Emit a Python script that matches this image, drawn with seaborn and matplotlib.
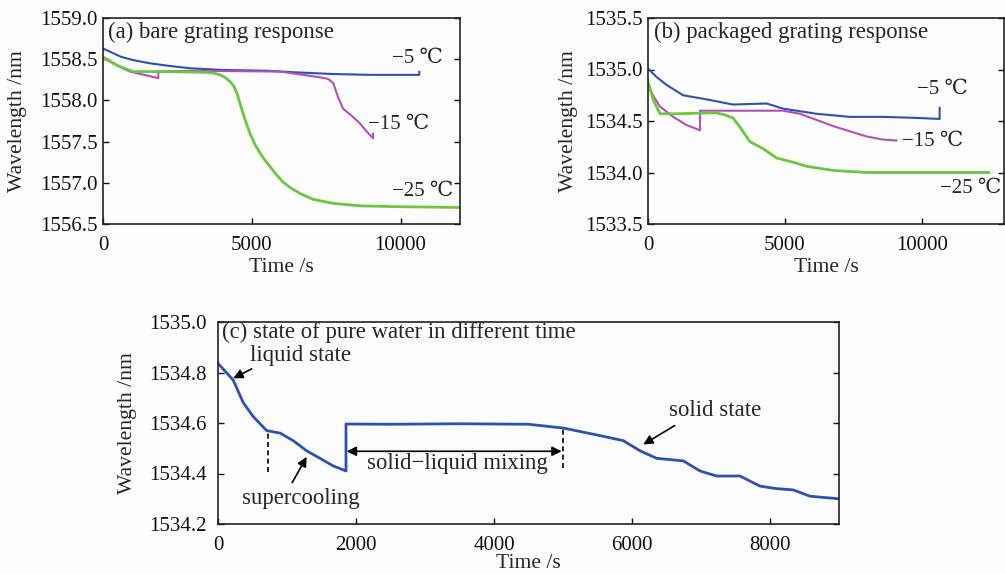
import matplotlib
matplotlib.use("Agg")
import matplotlib.pyplot as plt
import seaborn as sns
import pandas as pd

# ---- data ----
# (a) bare grating
a_t_5 = [0, 300, 600, 1000, 1580, 2200, 2924, 4000, 5510, 6500, 7740, 9000, 10630, 10630]
a_v_5 = [1558.63, 1558.58, 1558.53, 1558.49, 1558.45, 1558.42, 1558.39, 1558.37, 1558.36, 1558.34, 1558.32,
         1558.31, 1558.31, 1558.35]
a_t_15 = [0, 500, 900, 1860, 1860, 3000, 5950, 7300, 7570, 7740, 7900, 8070, 8400, 8640, 8870, 9080, 9080]
a_v_15 = [1558.53, 1558.42, 1558.35, 1558.27, 1558.35, 1558.36, 1558.35, 1558.28, 1558.26, 1558.21, 1558.04,
          1557.90, 1557.80, 1557.72, 1557.62, 1557.54, 1557.60]
a_t_25 = [0, 250, 500, 1010, 2000, 3480, 3750, 3930, 4100, 4270, 4400, 4500, 4600, 4710, 4820, 4940, 5100,
          5280, 5450, 5610, 5800, 6050, 6300, 6620, 7060, 7740, 8640, 9980, 12000]
a_v_25 = [1558.52, 1558.47, 1558.42, 1558.35, 1558.35, 1558.34, 1558.33, 1558.31, 1558.28, 1558.23, 1558.17,
          1558.09, 1557.97, 1557.84, 1557.72, 1557.60, 1557.47, 1557.36, 1557.27, 1557.20, 1557.11, 1557.01,
          1556.94, 1556.87, 1556.80, 1556.75, 1556.72, 1556.71, 1556.70]

# (b) packaged grating
b_t_5 = [0, 300, 680, 1280, 2140, 3100, 4330, 4930, 6160, 7370, 8580, 9800, 10650, 10650]
b_v_5 = [1535.01, 1534.93, 1534.85, 1534.75, 1534.71, 1534.66, 1534.67, 1534.62, 1534.57, 1534.54, 1534.54,
         1534.53, 1534.52, 1534.63]
b_t_15 = [0, 200, 440, 920, 1410, 1900, 1900, 3000, 4930, 5550, 6160, 6770, 7370, 7980, 8580, 9080]
b_v_15 = [1534.85, 1534.74, 1534.64, 1534.54, 1534.46, 1534.41, 1534.60, 1534.60, 1534.60, 1534.57, 1534.51,
          1534.45, 1534.40, 1534.35, 1534.32, 1534.31]
b_t_25 = [0, 200, 440, 1000, 2470, 2800, 3100, 3360, 3720, 4210, 4700, 5300, 5790, 6770, 8000, 10000, 12450]
b_v_25 = [1534.88, 1534.70, 1534.57, 1534.57, 1534.58, 1534.56, 1534.53, 1534.44, 1534.30, 1534.23, 1534.14,
          1534.10, 1534.06, 1534.02, 1534.00, 1534.00, 1534.00]

# (c) pure water
c_t = [0, 220, 367, 512, 705, 900, 1090, 1285, 1478, 1670, 1855, 1855, 2500, 3500, 4500, 5005, 5536, 5874,
       6116, 6358, 6744, 6985, 7227, 7565, 7855, 8097, 8338, 8580, 8990]
c_v = [1534.836, 1534.77, 1534.68, 1534.625, 1534.57, 1534.56, 1534.53, 1534.49, 1534.46, 1534.43, 1534.41,
       1534.596, 1534.595, 1534.597, 1534.595, 1534.58, 1534.55, 1534.53, 1534.49, 1534.46, 1534.45, 1534.41,
       1534.39, 1534.39, 1534.35, 1534.34, 1534.335, 1534.31, 1534.30]

temps = ["−5 ℃", "−15 ℃", "−25 ℃"]
colors = {"−5 ℃": "#2c52b0", "−15 ℃": "#b050b8", "−25 ℃": "#6cc63e"}


def frame(ts, vs):
    parts = []
    for lab, t, v in zip(temps, ts, vs):
        parts.append(pd.DataFrame({"time": t, "wl": v, "temp": lab}))
    return pd.concat(parts, ignore_index=True)


df_a = frame([a_t_5, a_t_15, a_t_25], [a_v_5, a_v_15, a_v_25])
df_b = frame([b_t_5, b_t_15, b_t_25], [b_v_5, b_v_15, b_v_25])
df_c = pd.DataFrame({"time": c_t, "wl": c_v})

sns.set_theme(style="ticks")
plt.rcParams["font.family"] = ["Liberation Serif", "DejaVu Serif"]
FS_TICK = 15
FS_TXT = 16.4
FS_LAB = 15.6

W, H = 1005, 574
fig = plt.figure(figsize=(W / 100, H / 100), dpi=100, facecolor="#fcfcfc")


def px_axes(l, t, r, b):
    return fig.add_axes([l / W, 1 - b / H, (r - l) / W, (b - t) / H])


def style(ax, ypad):
    ax.set_facecolor("#fcfcfc")
    for s in ax.spines.values():
        s.set_color("#222222")
        s.set_linewidth(1.2)
    ax.tick_params(direction="in", length=4, width=1, top=False, right=True,
                   labelsize=FS_TICK, colors="#111111")
    ax.tick_params(axis="x", pad=9)
    ax.tick_params(axis="y", pad=ypad)


ax_a = px_axes(103, 18, 460, 224)
ax_b = px_axes(648, 18, 1004, 224)
ax_c = px_axes(218, 322, 839, 524)

for ax, df in [(ax_a, df_a), (ax_b, df_b)]:
    for lab in temps:
        sub = df[df["temp"] == lab]
        sns.lineplot(data=sub, x="time", y="wl", ax=ax, color=colors[lab], estimator=None, sort=False,
                     lw=2.0 if lab == "−25 ℃" else 1.5)

sns.lineplot(data=df_c, x="time", y="wl", ax=ax_c, color="#2c52b0", estimator=None, sort=False, lw=2.0)

# panel (a)
ax_a.set_xlim(0, 12000)
ax_a.set_ylim(1556.5, 1559.0)
ax_a.set_xticks([0, 5000, 10000])
ax_a.set_yticks([1556.5, 1557.0, 1557.5, 1558.0, 1558.5, 1559.0])
ax_a.set_yticklabels([f"{v:.1f}" for v in ax_a.get_yticks()])
ax_a.text(0.015, 0.93, "(a) bare grating response", transform=ax_a.transAxes, fontsize=FS_TXT, va="center")
ax_a.text(9714, 1558.51, "−5 ℃", fontsize=FS_TICK, va="center")
ax_a.text(8908, 1557.71, "−15 ℃", fontsize=FS_TICK, va="center")
ax_a.text(9714, 1556.90, "−25 ℃", fontsize=FS_TICK, va="center")
ax_a.xaxis.set_label_coords(0.445, -0.165)
ax_a.yaxis.set_label_coords(-0.213, 0.5)

# panel (b)
ax_b.set_xlim(0, 13000)
ax_b.set_ylim(1533.5, 1535.5)
ax_b.set_xticks([0, 5000, 10000])
ax_b.set_yticks([1533.5, 1534.0, 1534.5, 1535.0, 1535.5])
ax_b.set_yticklabels([f"{v:.1f}" for v in ax_b.get_yticks()])
ax_b.text(0.018, 0.93, "(b) packaged grating response", transform=ax_b.transAxes, fontsize=FS_TXT,
          va="center")
ax_b.text(9818, 1534.81, "−5 ℃", fontsize=FS_TICK, va="center")
ax_b.text(9270, 1534.30, "−15 ℃", fontsize=FS_TICK, va="center")
ax_b.text(10657, 1533.85, "−25 ℃", fontsize=FS_TICK, va="center")
ax_b.xaxis.set_label_coords(0.42, -0.165)
ax_b.yaxis.set_label_coords(-0.197, 0.5)

# panel (c)
ax_c.set_xlim(0, 9000)
ax_c.set_ylim(1534.2, 1535.0)
ax_c.set_xticks([0, 2000, 4000, 6000, 8000])
ax_c.set_yticks([1534.2, 1534.4, 1534.6, 1534.8, 1535.0])
ax_c.set_yticklabels([f"{v:.1f}" for v in ax_c.get_yticks()])
ax_c.text(0.006, 0.95, "(c) state of pure water in different time", transform=ax_c.transAxes,
          fontsize=FS_TXT, va="center")
arrow = dict(arrowstyle="-|>", color="black", lw=1.2, mutation_scale=14)
ax_c.annotate("liquid state", xy=(222, 1534.777), xytext=(464, 1534.869), fontsize=FS_TXT,
              va="center", ha="left", arrowprops=dict(arrow, shrinkA=0, shrinkB=0, relpos=(0.12, 0.1)))
ax_c.annotate("supercooling", xy=(1285, 1534.466), xytext=(1200, 1534.30), fontsize=FS_TXT,
              va="center", ha="center", arrowprops=dict(arrow, shrinkA=2, shrinkB=0, relpos=(0.4, 1.0)))
ax_c.annotate("solid state", xy=(6164, 1534.515), xytext=(7200, 1534.65), fontsize=FS_TXT,
              va="center", ha="center", arrowprops=dict(arrow, shrinkA=2, shrinkB=0, relpos=(0.15, 0.0)))
ax_c.vlines([720, 5005], [1534.405, 1534.42], [1534.57, 1534.58], colors="black",
            linestyles=(0, (3, 2)), lw=1.2)
ax_c.annotate("", xy=(1865, 1534.488), xytext=(4980, 1534.488),
              arrowprops=dict(arrowstyle="<|-|>", color="black", lw=1.2, mutation_scale=14,
                              shrinkA=0, shrinkB=0))
ax_c.text(3464, 1534.44, "solid−liquid mixing", fontsize=FS_TXT, va="center", ha="center")
ax_c.xaxis.set_label_coords(0.454, -0.148)
ax_c.yaxis.set_label_coords(-0.131, 0.5)

for ax, ypad in ((ax_a, 4), (ax_b, 4), (ax_c, 8)):
    style(ax, ypad)
    ax.set_xlabel("Time /s", fontsize=FS_LAB)
    ax.set_ylabel("Wavelength /nm", fontsize=FS_LAB)

fig.savefig("out.png", dpi=100, facecolor=fig.get_facecolor())
plt.close(fig)
